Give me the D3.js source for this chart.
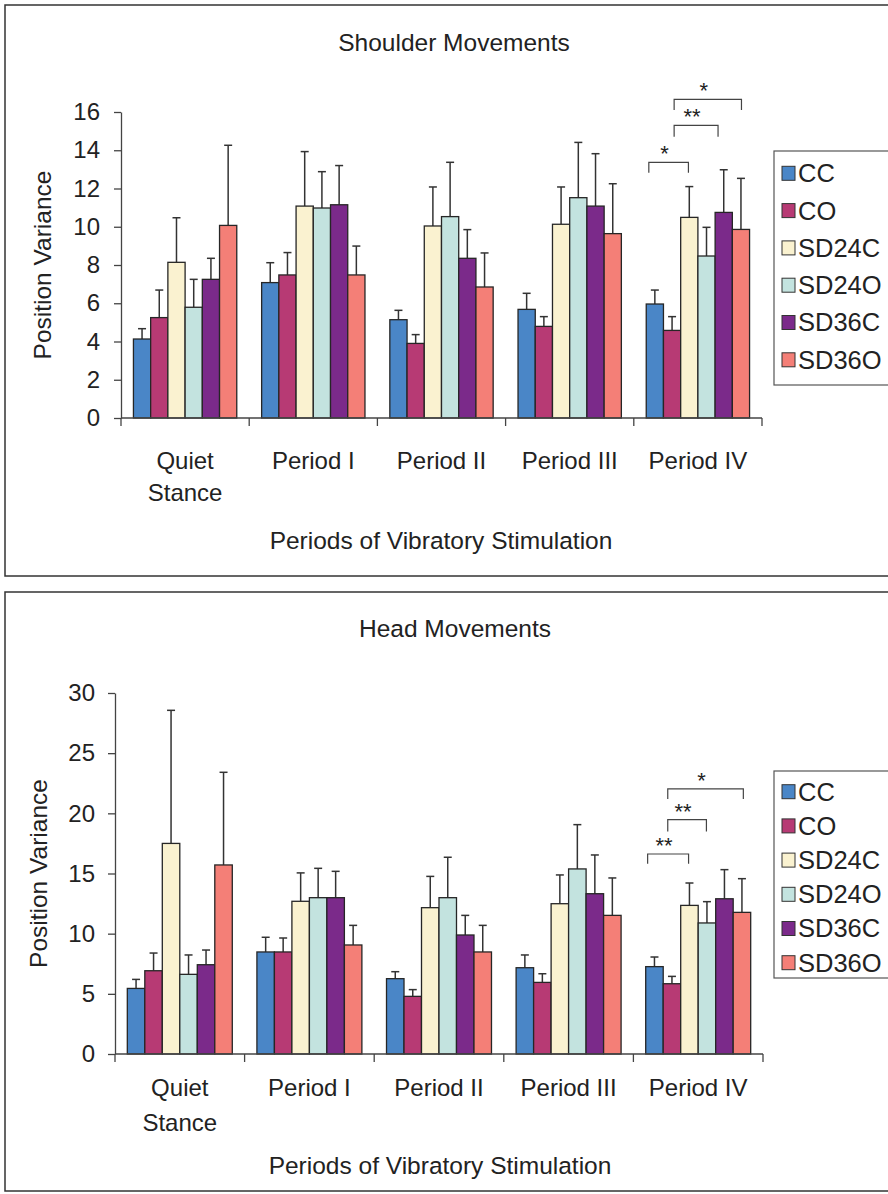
<!DOCTYPE html>
<html>
<head>
<meta charset="utf-8">
<script src="https://cdn.jsdelivr.net/npm/d3@7"></script>
<style>
  html, body { margin: 0; padding: 0; background: #fff; }
  svg { display: block; }
  text { font-family: "Liberation Sans", Arial, Helvetica, sans-serif; fill: #222; }
</style>
</head>
<body>
<svg id="chart" width="888" height="1194"></svg>
<script>
// ---------- DATA ----------
const categories = ["Quiet Stance", "Period I", "Period II", "Period III", "Period IV"];
const xTickLabels = [["Quiet", "Stance"], ["Period I"], ["Period II"], ["Period III"], ["Period IV"]];
const seriesNames = ["CC", "CO", "SD24C", "SD24O", "SD36C", "SD36O"];
const seriesColors = ["#4a86c7", "#b73a74", "#faf2d0", "#c3e3df", "#7b2a8a", "#f47f77"];

// Shoulder movements: rows = series, columns = categories
const shoulderMeans = [
  [4.13, 7.08, 5.14, 5.68, 5.96],
  [5.25, 7.48, 3.90, 4.79, 4.58],
  [8.14, 11.08, 10.04, 10.13, 10.49],
  [5.79, 10.98, 10.53, 11.52, 8.47],
  [7.25, 11.15, 8.35, 11.08, 10.75],
  [10.07, 7.48, 6.85, 9.64, 9.86]
];
const shoulderSD = [
  [0.54, 1.04, 0.49, 0.84, 0.73],
  [1.44, 1.17, 0.46, 0.51, 0.72],
  [2.33, 2.85, 2.04, 1.95, 1.61],
  [1.46, 1.90, 2.84, 2.89, 1.50],
  [1.10, 2.05, 1.50, 2.74, 2.23],
  [4.19, 1.51, 1.78, 2.61, 2.67]
];
const shoulderTicks = [0, 2, 4, 6, 8, 10, 12, 14, 16];
// significance brackets: fractional bar positions in Period IV group, value heights
const shoulderBrackets = [
  { from: 0.15, to: 2.45, top: 13.37, tail: 12.83, label: "*" },
  { from: 1.62, to: 4.17, top: 15.30, tail: 14.71, label: "**" },
  { from: 1.62, to: 5.53, top: 16.66, tail: 16.10, label: "*" }
];

// Head movements
const headMeans = [
  [5.45, 8.48, 6.26, 7.17, 7.26],
  [6.92, 8.48, 4.79, 5.95, 5.84],
  [17.50, 12.69, 12.16, 12.49, 12.35],
  [6.62, 12.99, 12.99, 15.38, 10.89],
  [7.42, 12.99, 9.89, 13.32, 12.90],
  [15.71, 9.06, 8.48, 11.52, 11.77]
];
const headSD = [
  [0.75, 1.22, 0.58, 1.06, 0.80],
  [1.47, 1.16, 0.56, 0.72, 0.61],
  [11.06, 2.36, 2.60, 2.39, 1.86],
  [1.61, 2.44, 3.36, 3.68, 1.77],
  [1.22, 2.19, 1.63, 3.22, 2.42],
  [7.70, 1.63, 2.21, 3.11, 2.80]
];
const headTicks = [0, 5, 10, 15, 20, 25, 30];
const headBrackets = [
  { from: 0.11, to: 2.45, top: 16.62, tail: 15.82, label: "**" },
  { from: 1.26, to: 3.47, top: 19.48, tail: 18.50, label: "**" },
  { from: 1.26, to: 5.58, top: 22.03, tail: 21.20, label: "*" }
];

// ---------- DRAWING ----------
const svg = d3.select("#chart");

function drawChart(cfg) {
  const g = svg.append("g");
  // frame
  g.append("rect")
    .attr("x", cfg.frame[0]).attr("y", cfg.frame[1])
    .attr("width", cfg.frame[2]).attr("height", cfg.frame[3])
    .attr("fill", "none").attr("stroke", "#333").attr("stroke-width", 1.5);

  // title
  g.append("text")
    .attr("x", cfg.titlePos[0]).attr("y", cfg.titlePos[1]).attr("dy", "0.35em")
    .attr("text-anchor", "middle").style("font-size", "24.5px")
    .text(cfg.title);

  const x = d3.scaleBand().domain(categories).range([cfg.x0, cfg.x1]).paddingInner(0).paddingOuter(0);
  const bw = x.bandwidth();
  const pad = bw * cfg.groupPad;
  const inner = d3.scaleBand().domain(seriesNames).range([pad, bw - pad]).padding(0);
  const y = d3.scaleLinear().domain([0, cfg.yMax]).range([cfg.y0, cfg.y1]);

  // y axis
  const yAxis = d3.axisLeft(y).tickValues(cfg.ticks).tickSize(7).tickPadding(cfg.tickPad).tickSizeOuter(0);
  const ya = g.append("g").attr("transform", `translate(${cfg.x0},0)`).call(yAxis);
  ya.select(".domain").attr("stroke", "#444").attr("stroke-width", 1.3);
  ya.selectAll(".tick line").attr("stroke", "#444").attr("stroke-width", 1.3);
  ya.selectAll(".tick text").style("font-size", "24px").attr("fill", "#222")
    .style("font-family", "'Liberation Sans', Arial, sans-serif");

  // y axis title
  g.append("text")
    .attr("transform", `translate(${cfg.yTitleX},${(cfg.y0 + cfg.y1) / 2}) rotate(-90)`)
    .attr("dy", "0.35em").attr("text-anchor", "middle").style("font-size", "24.5px")
    .text("Position Variance");

  // bars
  const groups = g.selectAll(".grp").data(categories).join("g")
    .attr("transform", d => `translate(${x(d)},0)`);
  categories.forEach((cat, ci) => {
    const gg = groups.filter(d => d === cat);
    seriesNames.forEach((s, si) => {
      const m = cfg.means[si][ci];
      const sd = cfg.sds[si][ci];
      const bx = inner(s);
      const cx = bx + inner.bandwidth() / 2;
      // error bar (upper only)
      gg.append("line")
        .attr("x1", cx).attr("x2", cx).attr("y1", y(m)).attr("y2", y(m + sd))
        .attr("stroke", "#333").attr("stroke-width", 1.5);
      gg.append("line")
        .attr("x1", cx - 4).attr("x2", cx + 4).attr("y1", y(m + sd)).attr("y2", y(m + sd))
        .attr("stroke", "#333").attr("stroke-width", 1.5);
      gg.append("rect")
        .attr("x", bx).attr("y", y(m))
        .attr("width", inner.bandwidth()).attr("height", y(0) - y(m))
        .attr("fill", seriesColors[si]).attr("stroke", "#262626").attr("stroke-width", 1.3);
    });
  });

  // x axis line and boundary ticks
  g.append("line").attr("x1", cfg.x0).attr("x2", cfg.x1).attr("y1", y(0)).attr("y2", y(0))
    .attr("stroke", "#444").attr("stroke-width", 1.3);
  const bounds = categories.map(c => x(c)).concat([x.range()[1]]);
  g.selectAll(".xt").data(bounds).join("line")
    .attr("x1", d => d).attr("x2", d => d).attr("y1", y(0)).attr("y2", y(0) + 8)
    .attr("stroke", "#444").attr("stroke-width", 1.3);

  // x tick labels
  categories.forEach((c, i) => {
    xTickLabels[i].forEach((line, li) => {
      g.append("text")
        .attr("x", x(c) + bw / 2).attr("y", y(0) + cfg.xLabelOff + li * cfg.xLabelLine)
        .attr("dy", "0.35em").attr("text-anchor", "middle").style("font-size", "24px")
        .text(line);
    });
  });

  // x axis title
  g.append("text")
    .attr("x", cfg.xTitlePos[0]).attr("y", cfg.xTitlePos[1]).attr("dy", "0.35em")
    .attr("text-anchor", "middle").style("font-size", "24.5px")
    .text("Periods of Vibratory Stimulation");

  // significance brackets (Period IV group)
  const last = categories[categories.length - 1];
  const gx = x(last) + pad;
  const ib = inner.bandwidth();
  cfg.brackets.forEach(b => {
    const xa = gx + b.from * ib, xb = gx + b.to * ib;
    g.append("path")
      .attr("d", `M${xa},${y(b.tail)}V${y(b.top)}H${xb}V${y(b.tail)}`)
      .attr("fill", "none").attr("stroke", "#444").attr("stroke-width", 1.2);
    g.append("text")
      .attr("x", (xa + xb) / 2 - 4).attr("y", y(b.top) - 1)
      .attr("text-anchor", "middle").style("font-size", "22px")
      .text(b.label);
  });

  // legend
  const L = cfg.legend;
  g.append("rect").attr("x", L.x).attr("y", L.y).attr("width", 140).attr("height", L.h)
    .attr("fill", "#fff").attr("stroke", "#555").attr("stroke-width", 1.2);
  seriesNames.forEach((s, i) => {
    const cy = L.first + i * L.step;
    g.append("rect").attr("x", L.x + 8).attr("y", cy - 7).attr("width", 13).attr("height", 14)
      .attr("fill", seriesColors[i]).attr("stroke", "#333").attr("stroke-width", 1);
    g.append("text").attr("x", L.x + 24).attr("y", cy).attr("dy", "0.35em")
      .style("font-size", "25.5px").text(s);
  });
}

drawChart({
  frame: [5, 5, 900, 571],
  title: "Shoulder Movements", titlePos: [454, 42],
  x0: 121, x1: 762, y0: 418, y1: 112, yMax: 16, ticks: shoulderTicks, tickPad: 14,
  groupPad: 0.097,
  means: shoulderMeans, sds: shoulderSD,
  yTitleX: 42,
  xLabelOff: 43, xLabelLine: 32,
  xTitlePos: [441, 540],
  brackets: shoulderBrackets,
  legend: { x: 774, y: 151, h: 234, first: 173.3, step: 37.3 }
});

drawChart({
  frame: [5, 592, 900, 599],
  title: "Head Movements", titlePos: [455, 628],
  x0: 115, x1: 763, y0: 1054, y1: 693, yMax: 30, ticks: headTicks, tickPad: 13,
  groupPad: 0.095,
  means: headMeans, sds: headSD,
  yTitleX: 38,
  xLabelOff: 34, xLabelLine: 35,
  xTitlePos: [440, 1165],
  brackets: headBrackets,
  legend: { x: 774, y: 771, h: 207, first: 791.7, step: 34.2 }
});
</script>
</body>
</html>
